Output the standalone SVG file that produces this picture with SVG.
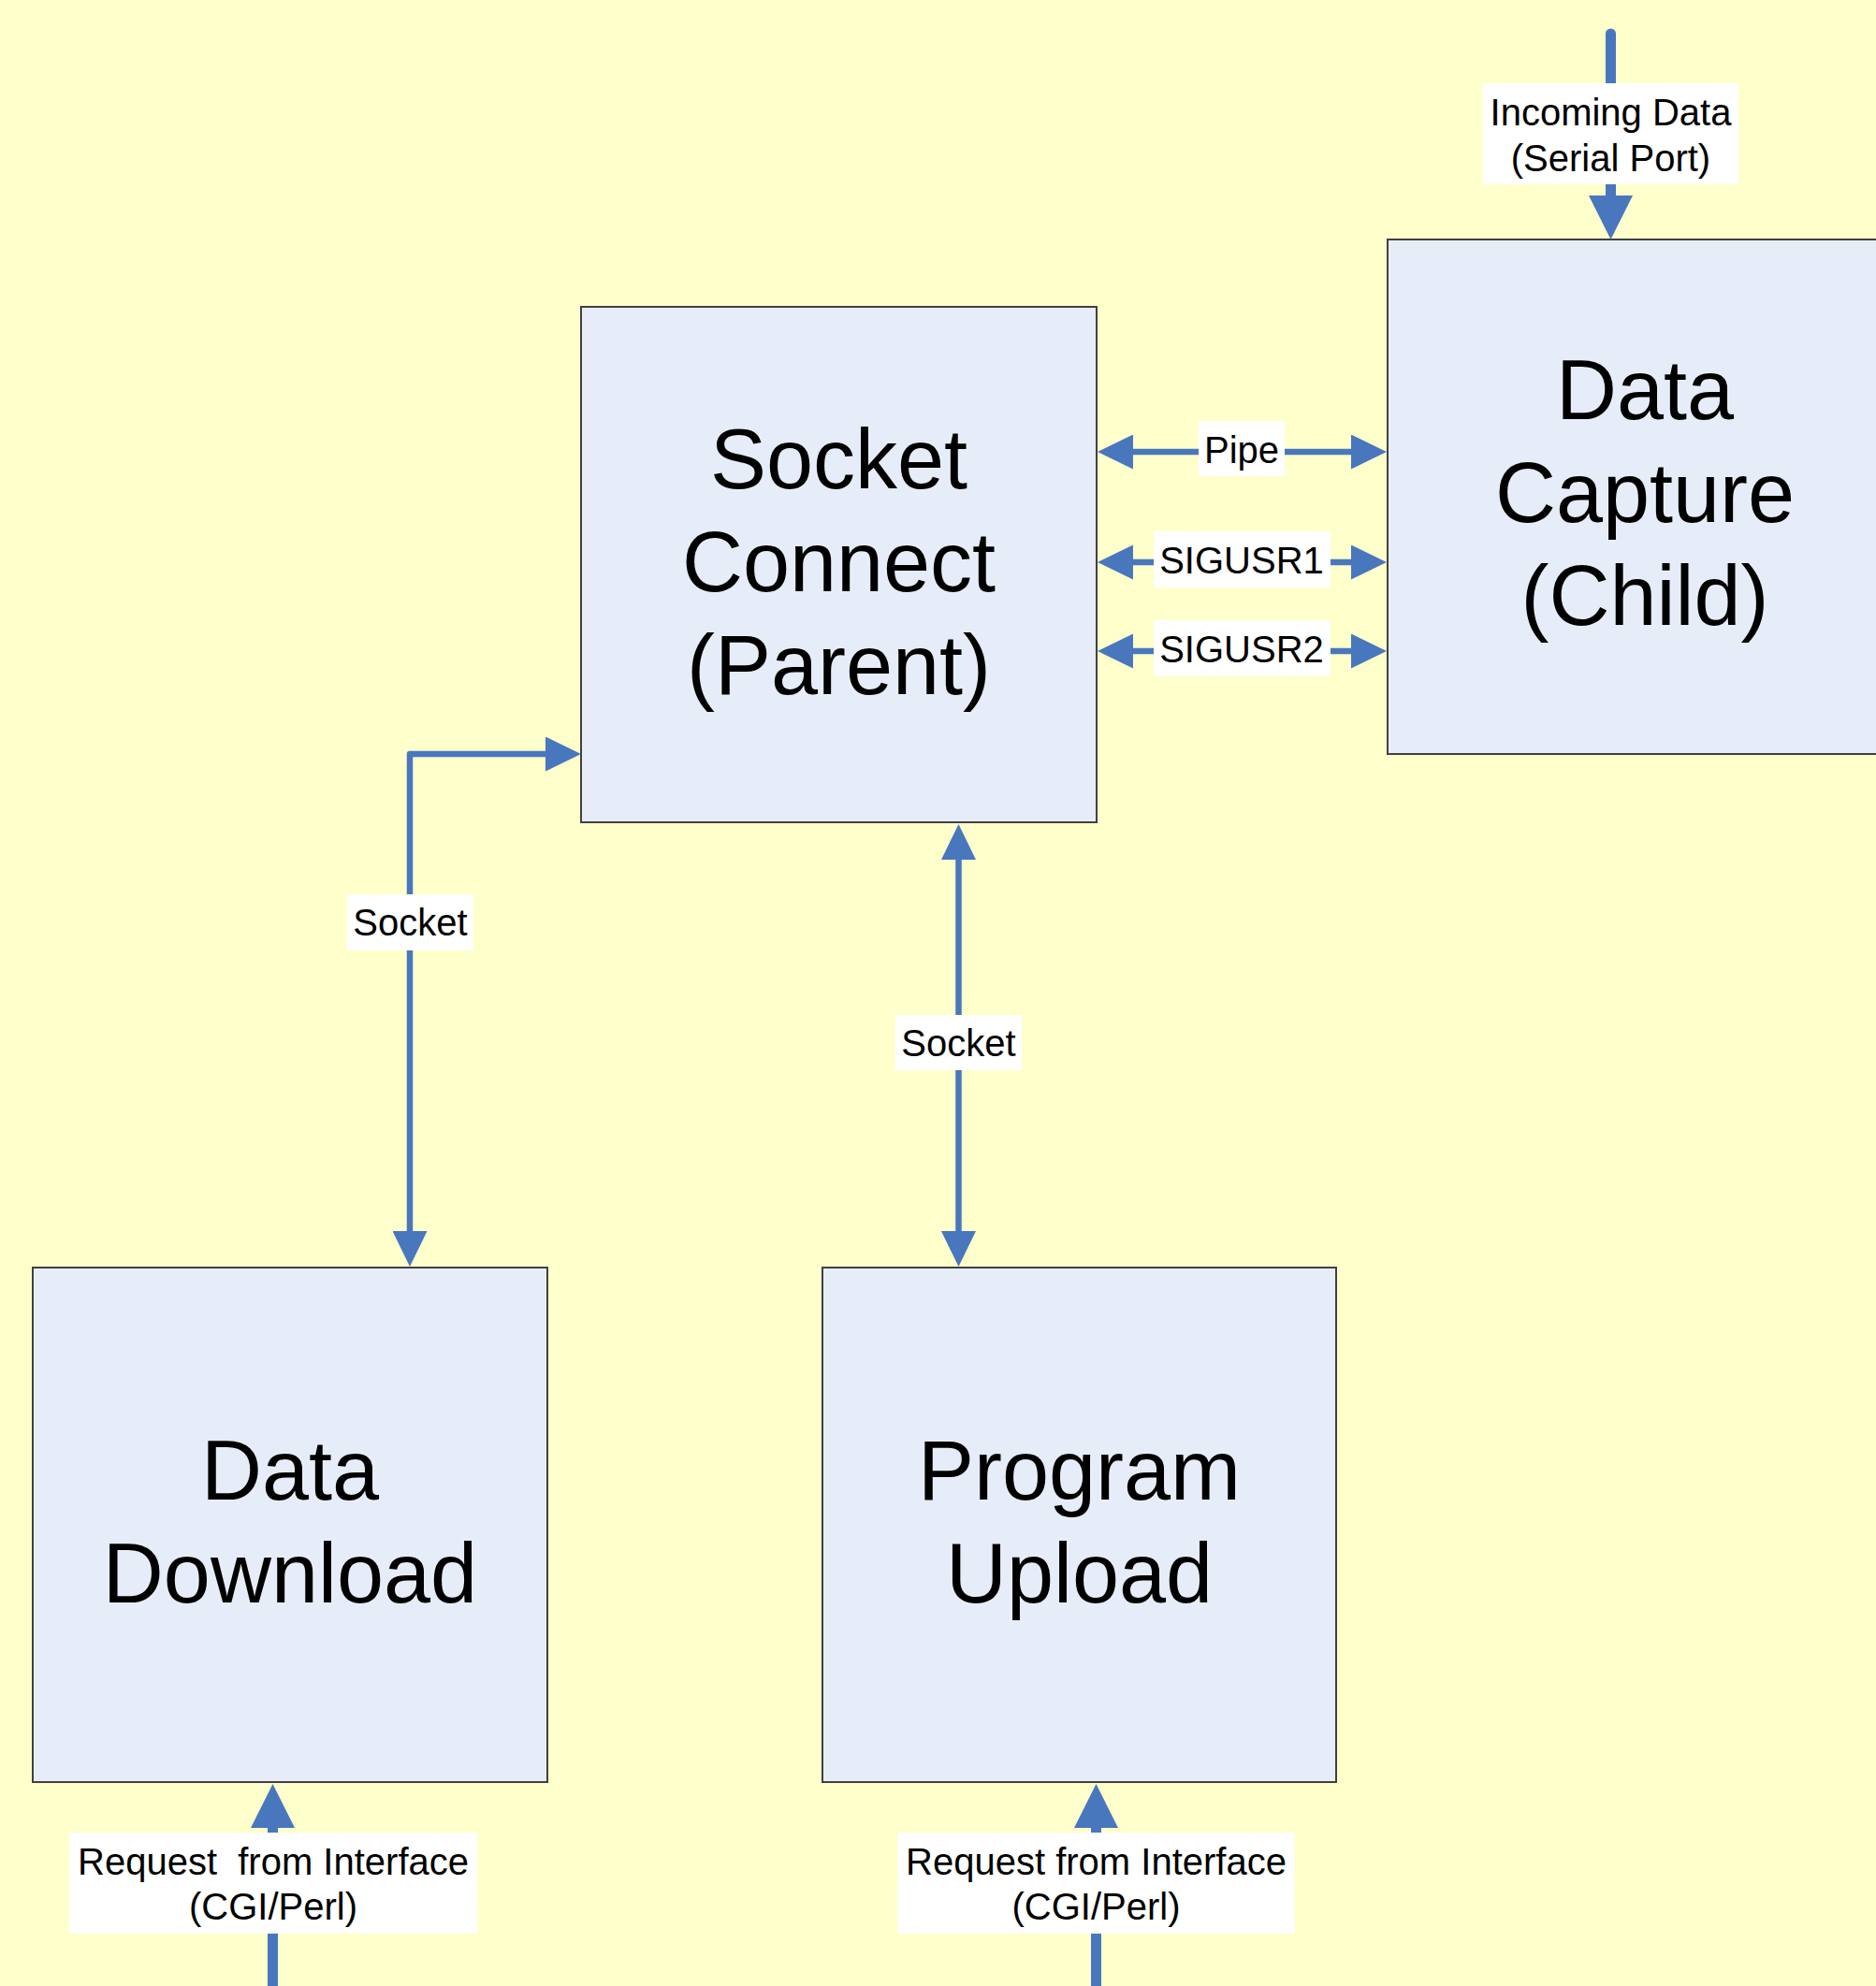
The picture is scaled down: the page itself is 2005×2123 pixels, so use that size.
<svg xmlns="http://www.w3.org/2000/svg" width="2005" height="2123" viewBox="0 0 2005 2123">
<style>
.box{fill:#E7EDF8;stroke:#404040;stroke-width:2}
.big{font-family:"Liberation Sans",Arial,sans-serif;font-size:90px;fill:#000;text-anchor:middle}
.lbl{font-family:"Liberation Sans",Arial,sans-serif;font-size:40px;fill:#000;text-anchor:middle}
.lblbg{fill:#FFFFFF}
.conn{fill:none;stroke:#4877BE;stroke-width:6.5;stroke-linejoin:round}
.thick{fill:none;stroke:#4877BE;stroke-width:11;stroke-linecap:round}
</style>
<defs>
<marker id="ah" viewBox="0 0 38 37" refX="1" refY="18.5" markerWidth="38" markerHeight="37" markerUnits="userSpaceOnUse" orient="auto-start-reverse">
<path d="M0,0 L38,18.5 L0,37 z" fill="#4877BE"/>
</marker>
<marker id="ahL" viewBox="0 0 47 47" refX="1" refY="23.5" markerWidth="47" markerHeight="47" markerUnits="userSpaceOnUse" orient="auto-start-reverse">
<path d="M0,0 L47,23.5 L0,47 z" fill="#4877BE"/>
</marker>
</defs>
<rect x="0" y="0" width="2005" height="2123" fill="#FFFFCC"/>

<g id="socket-connect">
<rect class="box" x="621" y="328" width="551" height="551"/>
<text class="big" x="896.5" y="522">Socket</text>
<text class="big" x="896.5" y="632">Connect</text>
<text class="big" x="896.5" y="742">(Parent)</text>
</g>
<g id="data-capture">
<rect class="box" x="1483" y="256" width="551" height="550"/>
<text class="big" x="1758" y="448">Data</text>
<text class="big" x="1758" y="558">Capture</text>
<text class="big" x="1758" y="668">(Child)</text>
</g>
<g id="data-download">
<rect class="box" x="35" y="1355" width="550" height="550"/>
<text class="big" x="310" y="1603">Data</text>
<text class="big" x="310" y="1713">Download</text>
</g>
<g id="program-upload">
<rect class="box" x="879" y="1355" width="549" height="550"/>
<text class="big" x="1153.5" y="1603">Program</text>
<text class="big" x="1153.5" y="1713">Upload</text>
</g>

<g id="connectors">
<!-- Incoming data -->
<path class="thick" d="M1721.5,36 L1721.5,210" marker-end="url(#ahL)"/>
<rect class="lblbg" x="1585" y="89" width="273" height="108"/>
<text class="lbl" x="1721.5" y="134">Incoming Data</text>
<text class="lbl" x="1721.5" y="183">(Serial Port)</text>

<!-- Pipe -->
<path class="conn" d="M1210,483 L1445,483" marker-start="url(#ah)" marker-end="url(#ah)"/>
<rect class="lblbg" x="1281" y="450" width="92" height="59"/>
<text class="lbl" x="1327" y="495">Pipe</text>

<!-- SIGUSR1 -->
<path class="conn" d="M1210,601 L1445,601" marker-start="url(#ah)" marker-end="url(#ah)"/>
<rect class="lblbg" x="1233" y="568" width="189" height="60"/>
<text class="lbl" x="1327" y="613">SIGUSR1</text>

<!-- SIGUSR2 -->
<path class="conn" d="M1210,696 L1445,696" marker-start="url(#ah)" marker-end="url(#ah)"/>
<rect class="lblbg" x="1233" y="663" width="189" height="60"/>
<text class="lbl" x="1327" y="708">SIGUSR2</text>

<!-- Left socket -->
<path class="conn" d="M438,1317 L438,806 L584,806" marker-start="url(#ah)" marker-end="url(#ah)"/>
<rect class="lblbg" x="371" y="956" width="135" height="60"/>
<text class="lbl" x="438.5" y="1000">Socket</text>

<!-- Middle socket -->
<path class="conn" d="M1024.5,918 L1024.5,1317" marker-start="url(#ah)" marker-end="url(#ah)"/>
<rect class="lblbg" x="957" y="1085" width="135" height="59"/>
<text class="lbl" x="1024.5" y="1129">Socket</text>

<!-- Bottom left request -->
<path class="thick" style="stroke-linecap:butt" d="M291.5,2123 L291.5,1953" marker-end="url(#ahL)"/>
<rect class="lblbg" x="74" y="1959" width="436" height="108"/>
<text class="lbl" x="292" y="2004" xml:space="preserve">Request  from Interface</text>
<text class="lbl" x="292" y="2052">(CGI/Perl)</text>

<!-- Bottom right request -->
<path class="thick" style="stroke-linecap:butt" d="M1171.5,2123 L1171.5,1953" marker-end="url(#ahL)"/>
<rect class="lblbg" x="959.5" y="1959" width="424" height="108"/>
<text class="lbl" x="1171.5" y="2004">Request from Interface</text>
<text class="lbl" x="1171.5" y="2052">(CGI/Perl)</text>
</g>
</svg>
